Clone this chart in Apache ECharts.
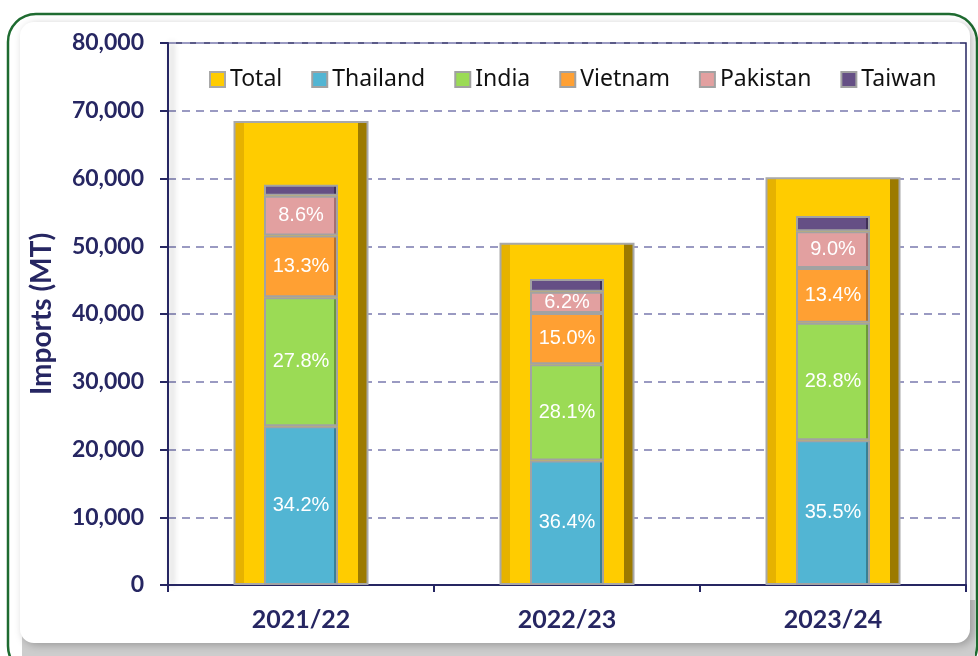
<!DOCTYPE html>
<html>
<head>
<meta charset="utf-8">
<script src="https://cdn.jsdelivr.net/npm/echarts@6/dist/echarts.min.js"></script>
<style>
  html, body { margin: 0; padding: 0; background: #fff; }
  #main { width: 978px; height: 656px; }
</style>
</head>
<body>
<div id="main"></div>
<script>
var years = ['2021/22', '2022/23', '2023/24']
var total = [68500, 50500, 60200]
var thailand = [23430, 18380, 21370]
var india = [19040, 14190, 17340]
var vietnam = [9110, 7580, 8070]
var pakistan = [5890, 3130, 5420]
var taiwan = [1600, 1900, 2250]

var navy = '#262662'

// face colour with darker edges, to mimic the bevelled bars
function bevel (light, face, dark, edge) {
  return new echarts.graphic.LinearGradient(0, 0, 1, 0, [
    { offset: 0, color: light },
    { offset: edge, color: light },
    { offset: edge, color: face },
    { offset: 1 - edge, color: face },
    { offset: 1 - edge, color: dark },
    { offset: 1, color: dark }
  ])
}

function stackSeries (name, values, face, dark, showLabel) {
  return {
    name: name,
    type: 'bar',
    stack: 'c',
    xAxisIndex: 1,
    barWidth: 74,
    data: values,
    itemStyle: {
      color: bevel(face, face, dark, 0.06),
      borderColor: '#a2a2a2',
      borderWidth: 2
    },
    label: {
      show: showLabel,
      position: 'inside',
      color: '#fff',
      fontSize: 20,
      fontFamily: '"Liberation Sans Narrow", "Liberation Sans", sans-serif',
      formatter: function (p) {
        return (p.value / total[p.dataIndex] * 100).toFixed(1) + '%'
      }
    }
  }
}

var myChart = echarts.init(document.getElementById('main'))

var option = {
  animation: false,
  graphic: [
    {
      type: 'rect',
      z: -10,
      shape: { x: 8, y: 14, width: 969, height: 660, r: 28 },
      style: { fill: '#fff', stroke: '#1e6b30', lineWidth: 2.5 }
    },
    {
      type: 'rect',
      z: -9,
      shape: { x: 22, y: 600, width: 953, height: 60 },
      style: { fill: '#cdcdcd' }
    },
    {
      type: 'rect',
      z: -8,
      shape: { x: 20, y: 22, width: 950, height: 621, r: 14 },
      style: {
        fill: '#fff',
        shadowBlur: 8,
        shadowColor: 'rgba(0,0,0,0.25)',
        shadowOffsetX: 3,
        shadowOffsetY: 2
      }
    }
  ],
  legend: {
    left: 204,
    top: 63,
    itemWidth: 15,
    itemHeight: 15,
    itemGap: 29,
    icon: 'rect',
    textStyle: { fontFamily: 'Noto Sans', fontSize: 23, color: '#111' },
    data: ['Total', 'Thailand', 'India', 'Vietnam', 'Pakistan', 'Taiwan']
  },
  grid: {
    left: 168,
    right: 12,
    top: 43,
    bottom: 71,
    show: true,
    borderColor: navy,
    borderWidth: 1.5,
    backgroundColor: 'transparent'
  },
  xAxis: [
    {
      type: 'category',
      data: years,
      axisLine: { lineStyle: { color: navy, width: 2 } },
      axisTick: { show: true, length: 7, lineStyle: { color: navy, width: 2 } },
      axisLabel: {
        margin: 22,
        color: navy,
        fontFamily: 'Lato',
        fontWeight: 'bold',
        fontSize: 25
      }
    },
    {
      type: 'category',
      data: years,
      show: false
    }
  ],
  yAxis: {
    type: 'value',
    min: 0,
    max: 80000,
    interval: 10000,
    name: 'Imports (MT)',
    nameLocation: 'middle',
    nameGap: 112,
    nameTextStyle: {
      color: navy,
      fontFamily: 'Lato',
      fontWeight: 'bold',
      fontSize: 28
    },
    axisLine: {
      show: true,
      lineStyle: {
        color: navy,
        width: 2,
        shadowColor: 'rgba(0,0,0,0.3)',
        shadowBlur: 6,
        shadowOffsetX: 4
      }
    },
    axisTick: { show: true, length: 8, lineStyle: { color: navy, width: 2 } },
    axisLabel: {
      margin: 24,
      color: navy,
      fontFamily: 'Lato',
      fontWeight: 'bold',
      fontSize: 23,
      formatter: function (v) { return v.toLocaleString('en-US') }
    },
    splitLine: {
      lineStyle: { color: '#9a9ac2', width: 2, type: [8, 6] }
    }
  },
  series: [
    {
      name: 'Total',
      type: 'bar',
      xAxisIndex: 0,
      barWidth: 135,
      data: total,
      z: 1,
      itemStyle: {
        color: bevel('#e6b200', '#ffcc00', '#9c7a00', 0.075),
        borderColor: '#a8a8a8',
        borderWidth: 2
      }
    },
    stackSeries('Thailand', thailand, '#52b5d3', '#3a7f93', true),
    stackSeries('India', india, '#9bdb55', '#6b9a3a', true),
    stackSeries('Vietnam', vietnam, '#ffa033', '#b4712a', true),
    stackSeries('Pakistan', pakistan, '#e2a0a0', '#a56f6f', true),
    stackSeries('Taiwan', taiwan, '#654f85', '#3f2f57', false)
  ]
}

myChart.setOption(option)
window.addEventListener('resize', function () {
  myChart.resize()
})
</script>
</body>
</html>
